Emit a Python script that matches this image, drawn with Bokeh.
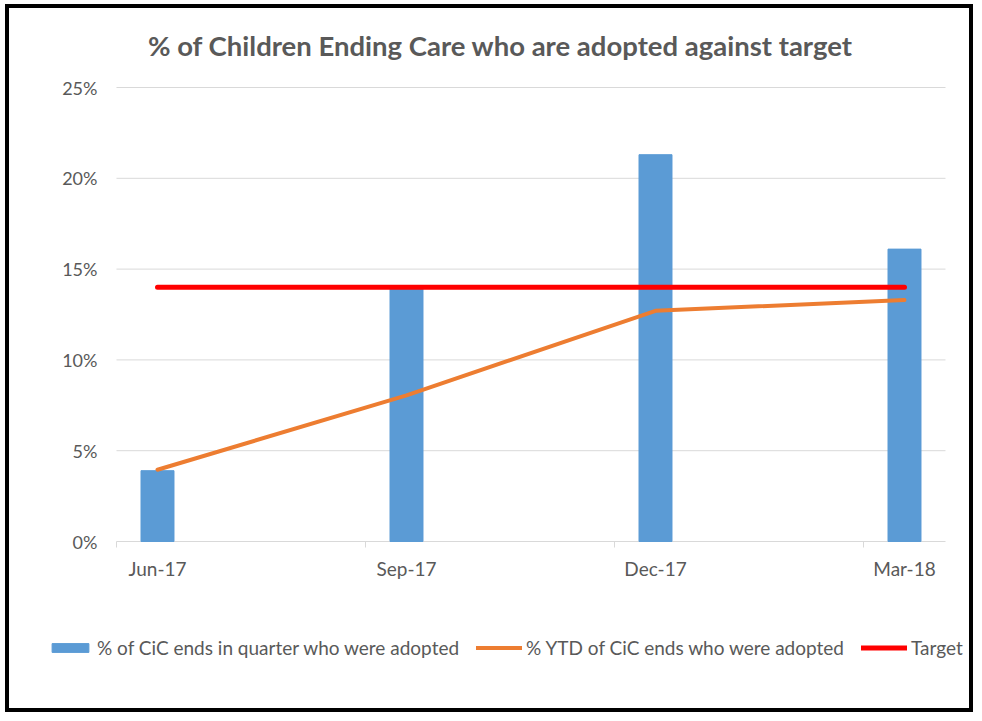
from bokeh.plotting import figure
from bokeh.models import Range1d, Legend, LegendItem, Label
from bokeh.core.properties import value
from bokeh.embed import file_html
from bokeh.resources import INLINE

quarters = ["Jun-17", "Sep-17", "Dec-17", "Mar-18"]
quarter_pct = [0.039, 0.140, 0.213, 0.161]
ytd_pct = [0.0395, 0.0805, 0.127, 0.133]
target_pct = [0.14, 0.14, 0.14, 0.14]
y_ticks = [0, 0.05, 0.10, 0.15, 0.20, 0.25]
y_tick_labels = ["0%", "5%", "10%", "15%", "20%", "25%"]

TITLE = "% of Children Ending Care who are adopted against target"
TXT = "#595959"
GRID = "#d9d9d9"

# canvas geometry (pixels)
W, H = 968, 708
cat_px0 = 148        # x of the first category centre
cat_step = 249       # distance between categories
zero_py = 533        # y of the 0% line (from top)
px_per_unit = 1816   # pixels for 100%

x = list(range(len(quarters)))
pad = 0.1647
x_lo = x[0] - pad
x_hi = x[-1] + pad

p = figure(width=W, height=H, output_backend="svg", toolbar_location=None, title=None,
           x_range=Range1d(-cat_px0 / cat_step, (W - cat_px0) / cat_step),
           y_range=Range1d(-(H - zero_py) / px_per_unit, zero_py / px_per_unit),
           min_border=0)
p.styles = {"border": "4px solid black", "margin-left": "5px", "margin-top": "4px"}
p.xaxis.visible = False
p.yaxis.visible = False
p.xgrid.grid_line_color = None
p.ygrid.grid_line_color = None
p.outline_line_color = None

# title
p.add_layout(Label(x=491, y=H - 37, x_units="screen", y_units="screen", text=TITLE,
                   text_align="center", text_baseline="alphabetic", text_font="Lato",
                   text_font_style="bold", text_font_size="27.5px", text_color=TXT))

# horizontal gridlines spanning the category axis
p.segment(x0=[x_lo] * len(y_ticks), x1=[x_hi] * len(y_ticks), y0=y_ticks, y1=y_ticks,
          line_color=GRID, line_width=1)

# y tick labels
p.text(x=[x_lo] * len(y_ticks), y=y_ticks, text=y_tick_labels, x_offset=-19,
       text_align="right", text_baseline="middle", text_color=TXT,
       text_font=value("Lato"), text_font_size="18px")

# x axis tick marks (between categories) and labels
bounds = [i - pad for i in x]
p.segment(x0=bounds, x1=bounds, y0=[0] * len(bounds), y1=[-6 / px_per_unit] * len(bounds),
          line_color=GRID, line_width=1)
p.text(x=x, y=[0] * len(x), text=quarters, y_offset=27,
       text_align="center", text_baseline="middle", text_color=TXT,
       text_font=value("Lato"), text_font_size="19px")

bars = p.vbar(x=x, top=quarter_pct, bottom=0, width=0.1325, color="#5B9BD5")
ytd = p.line(x=x, y=ytd_pct, line_color="#ED7D31", line_width=4, line_cap="round", line_join="round")
tgt = p.line(x=x, y=target_pct, line_color="#FF0000", line_width=5, line_cap="round")

legend = Legend(items=[
    LegendItem(label="% of CiC ends in quarter who were adopted", renderers=[bars]),
    LegendItem(label="% YTD of CiC ends who were adopted", renderers=[ytd]),
    LegendItem(label="Target", renderers=[tgt]),
], orientation="horizontal", location=(38, 57))
legend.glyph_width = 46
legend.glyph_height = 11
legend.label_standoff = 4
legend.spacing = 17
legend.padding = 0
legend.margin = 0
legend.border_line_color = None
legend.background_fill_alpha = 0
legend.label_text_font = "Lato"
legend.label_text_font_size = "19px"
legend.label_text_color = TXT
p.add_layout(legend)

open("out.html", "w").write(file_html(p, INLINE))
